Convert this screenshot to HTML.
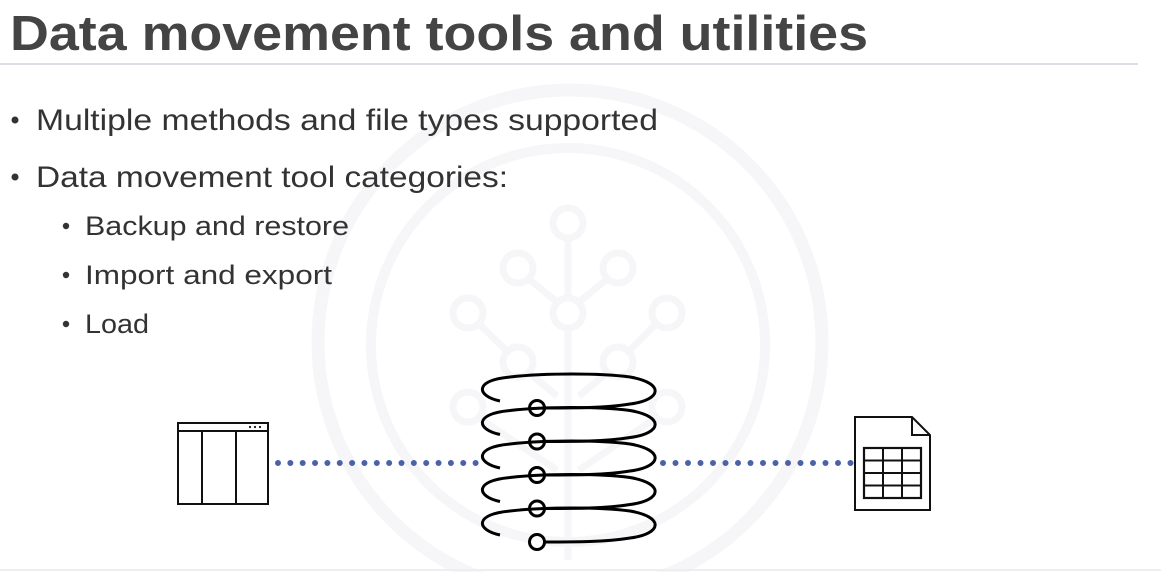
<!DOCTYPE html>
<html><head><meta charset="utf-8"><style>
html,body{margin:0;padding:0;background:#fff;}
svg{display:block;}
text{font-family:"Liberation Sans",sans-serif;}
</style></head><body>
<svg width="1161" height="572" viewBox="0 0 1161 572" xmlns="http://www.w3.org/2000/svg">
<rect width="1161" height="572" fill="#fff"/>
<!-- watermark -->
<g fill="none" stroke="#f6f6f8">
<circle cx="570" cy="342" r="252" stroke-width="13"/>
<circle cx="568" cy="345" r="197" stroke-width="10"/>
<g stroke-width="7">
<circle cx="568" cy="223" r="15"/>
<circle cx="518" cy="268" r="15"/><circle cx="618" cy="268" r="15"/>
<circle cx="568" cy="313" r="15"/>
<circle cx="468" cy="313" r="15"/><circle cx="667" cy="313" r="15"/>
<circle cx="518" cy="362" r="15"/><circle cx="618" cy="362" r="15"/>
<circle cx="468" cy="407" r="15"/><circle cx="667" cy="407" r="15"/>
<path d="M568 238 V298 M568 328 V560 M529 279 L557 302 M607 279 L579 302 M479 324 L507 351 M656 324 L629 351 M529 373 L557 396 M607 373 L579 396 M479 418 L557 470 M656 418 L579 470"/>
</g></g>
<!-- title -->
<text x="10" y="50" font-size="49" font-weight="bold" fill="#444" textLength="858" lengthAdjust="spacingAndGlyphs">Data movement tools and utilities</text>
<line x1="0" y1="64" x2="1138" y2="64" stroke="#d4d4e4" stroke-width="1.5"/>
<line x1="0" y1="570" x2="1161" y2="570" stroke="#eeeef2" stroke-width="2"/>
<!-- bullets -->
<g fill="#333">
<circle cx="15" cy="120" r="3.5"/>
<text x="36" y="130" font-size="30" textLength="622" lengthAdjust="spacingAndGlyphs">Multiple methods and file types supported</text>
<circle cx="15" cy="177" r="3.5"/>
<text x="36" y="187" font-size="30" textLength="472" lengthAdjust="spacingAndGlyphs">Data movement tool categories:</text>
<circle cx="66" cy="226" r="3.2"/>
<text x="85" y="235" font-size="27" textLength="264" lengthAdjust="spacingAndGlyphs">Backup and restore</text>
<circle cx="66" cy="275" r="3.2"/>
<text x="85" y="284" font-size="27" textLength="247" lengthAdjust="spacingAndGlyphs">Import and export</text>
<circle cx="66" cy="324" r="3.2"/>
<text x="85" y="333" font-size="27" textLength="64" lengthAdjust="spacingAndGlyphs">Load</text>
</g>
<!-- dotted connectors -->
<line x1="278" y1="463" x2="476" y2="463" stroke="#4c62a8" stroke-width="6" stroke-linecap="round" stroke-dasharray="0 12.35"/>
<line x1="663" y1="463" x2="851" y2="463" stroke="#4c62a8" stroke-width="6" stroke-linecap="round" stroke-dasharray="0 12.5"/>
<!-- table icon -->
<g fill="none" stroke="#111" stroke-width="2">
<rect x="178" y="423" width="90" height="81"/>
<line x1="178" y1="431" x2="268" y2="431"/>
<line x1="202" y1="431" x2="202" y2="504"/>
<line x1="236" y1="431" x2="236" y2="504"/>
</g>
<g fill="#111"><circle cx="250" cy="427" r="1.1"/><circle cx="255" cy="427" r="1.1"/><circle cx="260" cy="427" r="1.1"/></g>
<!-- spiral -->
<g fill="none" stroke="#000" stroke-width="3">
<g id="ring"><path d="M500 401 C476 396 474 380 510 377 C545 373 600 373 630 377 C665 383 662 400 630 404 C605 408 575 408 545 408"/>
<circle cx="537" cy="408" r="7.5" fill="#fff"/></g>
<use href="#ring" y="33.5"/>
<use href="#ring" y="67"/>
<use href="#ring" y="100.5"/>
<use href="#ring" y="134"/>
</g>
<!-- document icon -->
<g fill="none" stroke="#111" stroke-width="2">
<path d="M855 417 H912 L930 435 V510 H855 Z"/>
<path d="M912 417 V435 H930"/>
<rect x="864" y="448" width="57" height="50" stroke-width="2.2"/>
<line x1="883" y1="448" x2="883" y2="498"/>
<line x1="902" y1="448" x2="902" y2="498"/>
<line x1="864" y1="460.5" x2="921" y2="460.5"/>
<line x1="864" y1="473" x2="921" y2="473"/>
<line x1="864" y1="485.5" x2="921" y2="485.5"/>
</g>
</svg>
</body></html>
